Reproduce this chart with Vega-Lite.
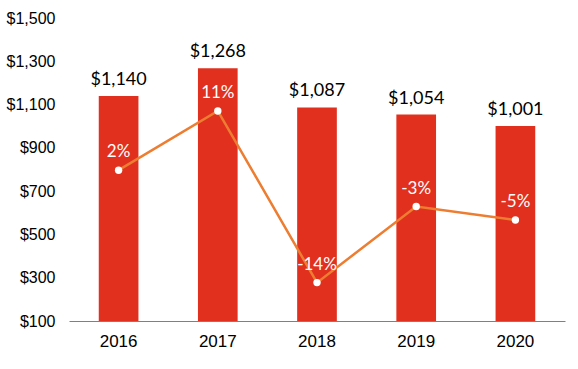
{
  "$schema": "https://vega.github.io/schema/vega-lite/v6.json",
  "width": 496,
  "height": 303,
  "autosize": "none",
  "padding": {"left": 69, "top": 18, "right": 13, "bottom": 48},
  "background": "white",
  "config": {"view": {"stroke": null}},
  "data": {
    "values": [
      {"year": "2016", "sales": 1140, "growth": 2.4, "label": "2%"},
      {"year": "2017", "sales": 1268, "growth": 11.2, "label": "11%"},
      {"year": "2018", "sales": 1087, "growth": -14.3, "label": "-14%"},
      {"year": "2019", "sales": 1054, "growth": -3.0, "label": "-3%"},
      {"year": "2020", "sales": 1001, "growth": -5.0, "label": "-5%"}
    ]
  },
  "encoding": {
    "x": {
      "field": "year",
      "type": "ordinal",
      "scale": {"paddingInner": 0.6, "paddingOuter": 0.3},
      "axis": {
        "title": null,
        "labelAngle": 0,
        "domainColor": "#808080",
        "ticks": false,
        "labelFont": "Liberation Sans",
        "labelFontSize": 17,
        "labelColor": "#000000",
        "labelPadding": 12
      }
    }
  },
  "layer": [
    {
      "layer": [
        {
          "mark": {"type": "bar", "color": "#E1301E"},
          "encoding": {
            "y": {
              "field": "sales",
              "type": "quantitative",
              "scale": {"domain": [100, 1500]},
              "axis": {
                "title": null,
                "values": [100, 300, 500, 700, 900, 1100, 1300, 1500],
                "format": "$,.0f",
                "grid": false,
                "ticks": false,
                "domain": false,
                "labelFont": "Liberation Sans",
                "labelFontSize": 16,
                "labelColor": "#000000",
                "labelPadding": 14
              }
            },
            "y2": {"datum": 100}
          }
        },
        {
          "mark": {"type": "text", "dy": -7, "baseline": "bottom", "font": "Lato", "fontSize": 18, "color": "#000000"},
          "encoding": {
            "y": {"field": "sales", "type": "quantitative"},
            "text": {"field": "sales", "type": "quantitative", "format": "$,.0f"}
          }
        }
      ]
    },
    {
      "layer": [
        {
          "mark": {"type": "line", "color": "#ED7D31", "strokeWidth": 2.5},
          "encoding": {
            "y": {"field": "growth", "type": "quantitative", "scale": {"domain": [-20, 25]}, "axis": null}
          }
        },
        {
          "mark": {"type": "point", "filled": true, "color": "#FFFFFF", "opacity": 1, "size": 55},
          "encoding": {
            "y": {"field": "growth", "type": "quantitative"}
          }
        },
        {
          "mark": {"type": "text", "dy": -18, "baseline": "middle", "font": "Lato", "fontSize": 17, "color": "#FFFFFF"},
          "encoding": {
            "y": {"field": "growth", "type": "quantitative"},
            "text": {"field": "label"}
          }
        }
      ]
    }
  ],
  "resolve": {"scale": {"y": "independent"}}
}
